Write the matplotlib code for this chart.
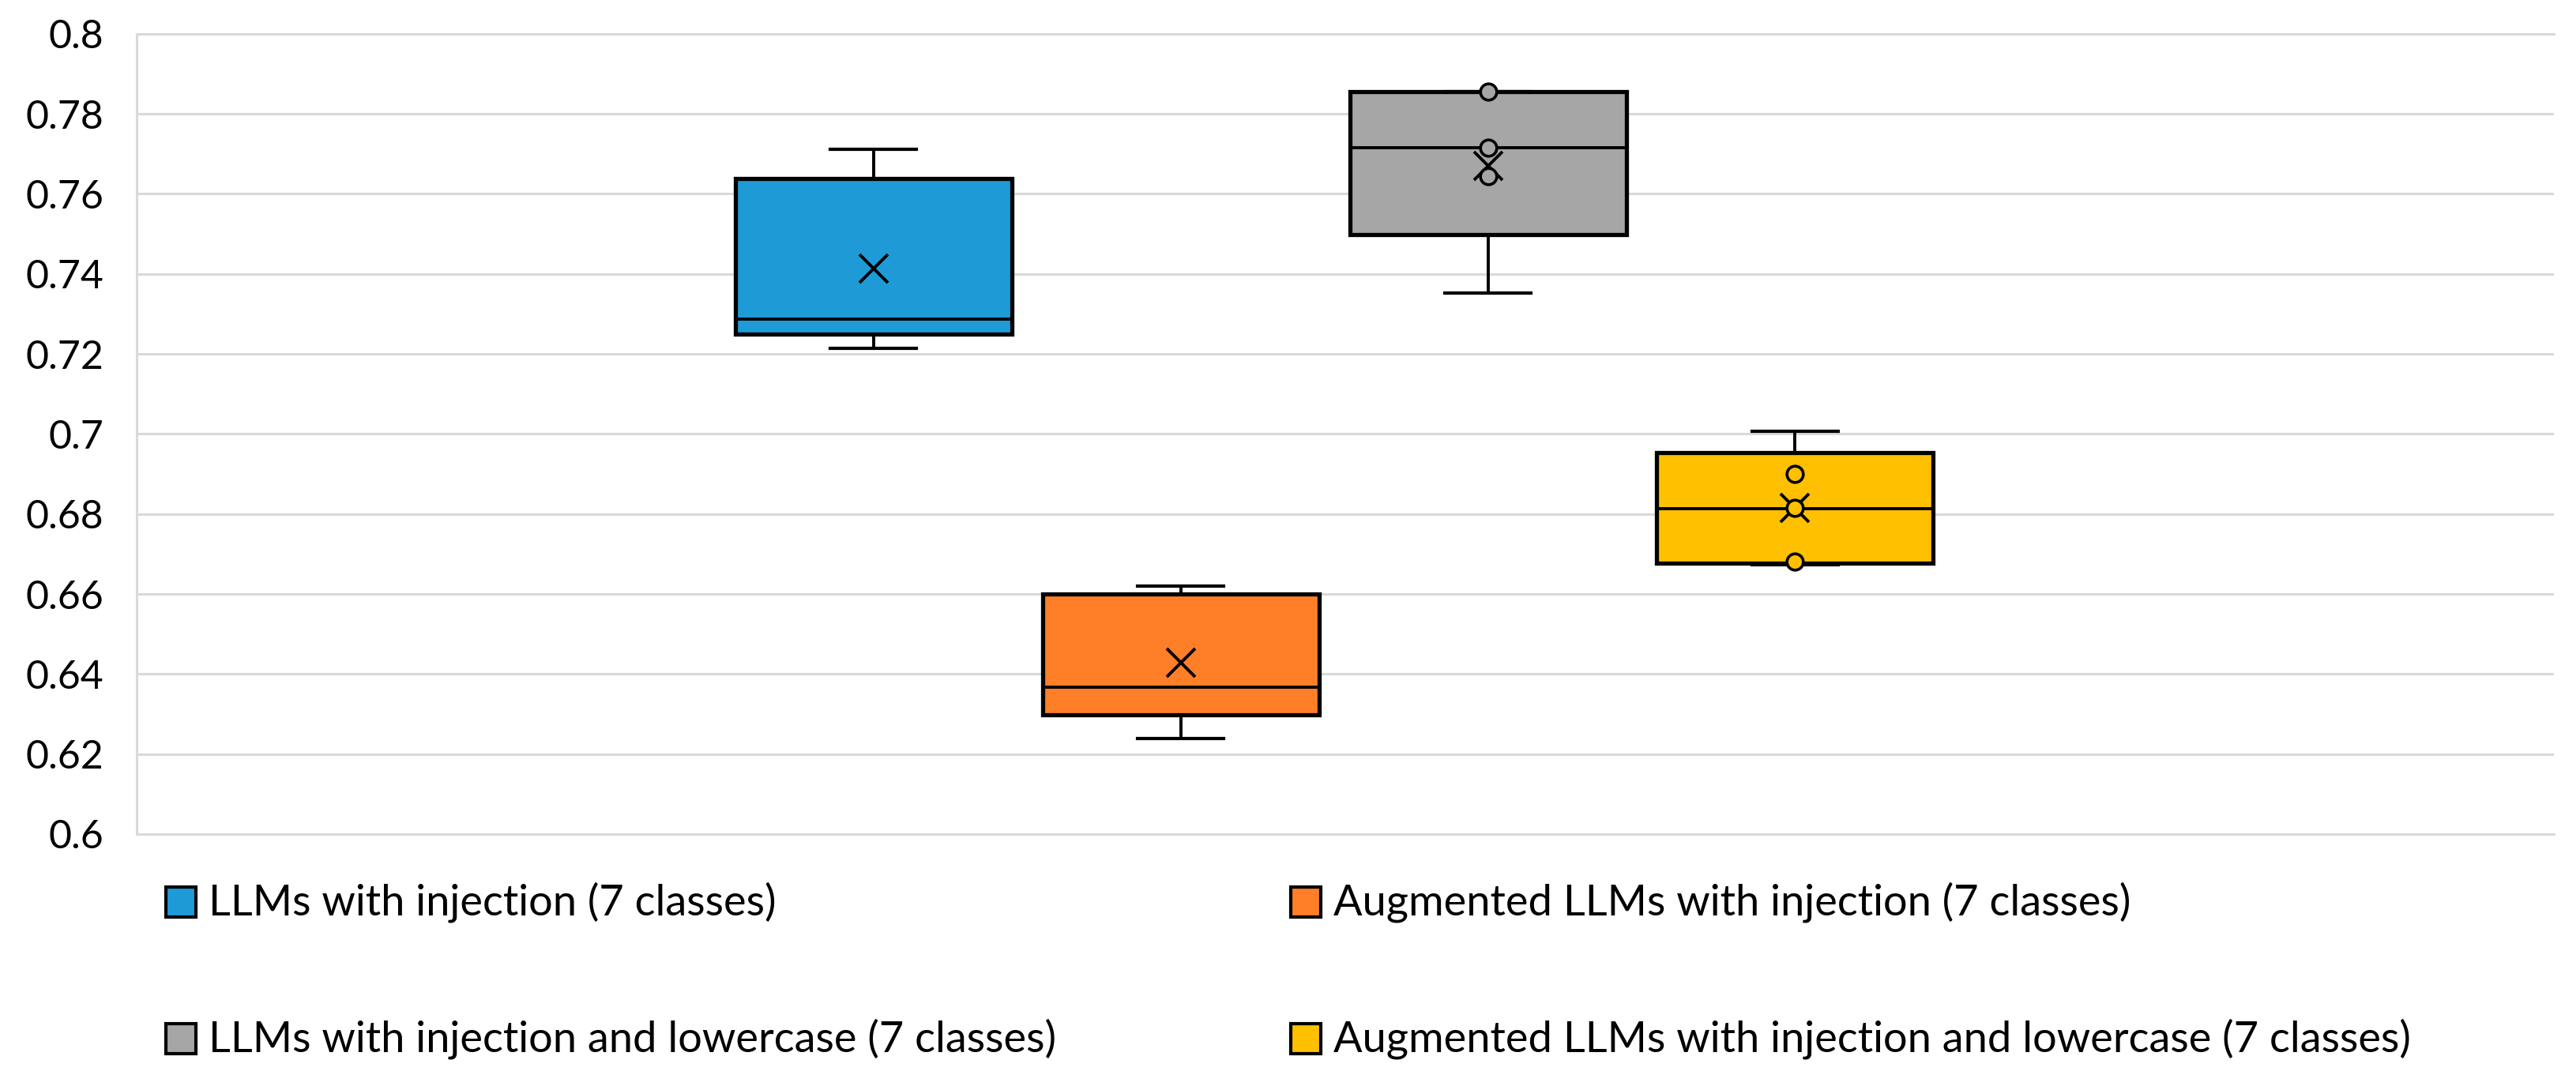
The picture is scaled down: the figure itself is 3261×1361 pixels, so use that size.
import matplotlib.pyplot as plt
from matplotlib.patches import Rectangle
from matplotlib.ticker import FuncFormatter

# ---------------- DATA ----------------
series = [
    "LLMs with injection (7 classes)",
    "Augmented LLMs with injection (7 classes)",
    "LLMs with injection and lowercase (7 classes)",
    "Augmented LLMs with injection and lowercase (7 classes)",
]
colors = ["#1E9BD7", "#FE7F27", "#A6A6A6", "#FFC000"]

whis_lo = [0.7213, 0.6238, 0.7352, 0.6673]
q1 = [0.7249, 0.6299, 0.7499, 0.6677]
median = [0.7287, 0.6367, 0.7716, 0.6814]
q3 = [0.7639, 0.6600, 0.7855, 0.6954]
whis_hi = [0.7711, 0.6619, 0.7856, 0.7006]
means = [0.7413, 0.6429, 0.7670, 0.6815]

# inner points shown for the lowercase series only
inner_points = [[], [], [0.7855, 0.7716, 0.7644], [0.6901, 0.6815, 0.6680]]

yticks = [0.6, 0.62, 0.64, 0.66, 0.68, 0.7, 0.72, 0.74, 0.76, 0.78, 0.8]

# ---------------- FIGURE ----------------
plt.rcParams["font.family"] = ["Lato", "DejaVu Sans"]
fig = plt.figure(figsize=(16.31, 6.805), dpi=200)
ax = fig.add_axes([0.0529, 0.2241, 0.9382, 0.7445])

positions = [1, 2, 3, 4]
stats = []
for i in range(4):
    stats.append({
        "whislo": whis_lo[i], "q1": q1[i], "med": median[i],
        "q3": q3[i], "whishi": whis_hi[i], "mean": means[i], "fliers": [],
    })

bp = ax.bxp(
    stats, positions=positions, widths=0.9, capwidths=0.28,
    patch_artist=True, showmeans=True, showfliers=False,
    boxprops={"edgecolor": "black", "linewidth": 1.9},
    medianprops={"color": "black", "linewidth": 1.4},
    whiskerprops={"color": "black", "linewidth": 1.4},
    capprops={"color": "black", "linewidth": 1.5},
    meanprops={"marker": "x", "markeredgecolor": "black", "markersize": 13,
               "markeredgewidth": 1.4},
    zorder=3,
)
for patch, c in zip(bp["boxes"], colors):
    patch.set_facecolor(c)

for pos, pts, c in zip(positions, inner_points, colors):
    if pts:
        ax.scatter([pos] * len(pts), pts, s=55, facecolor=c, edgecolor="black",
                   linewidth=1.3, zorder=5)

# ---------------- AXES ----------------
ax.set_xlim(-1.40, 6.47)
ax.set_ylim(0.6, 0.8)
ax.set_yticks(yticks)
ax.yaxis.set_major_formatter(FuncFormatter(lambda v, p: f"{v:g}"))
ax.tick_params(axis="y", length=0, pad=15, labelsize=18)
ax.set_xticks([])
ax.grid(axis="y", color="#D9D9D9", linewidth=1.1, zorder=0)
ax.set_axisbelow(True)
ax.spines["right"].set_visible(False)
for side in ["left", "top", "bottom"]:
    ax.spines[side].set_color("#D9D9D9")
    ax.spines[side].set_linewidth(1.1)

# ---------------- LEGEND ----------------
W, H = 3262, 1361
legend_xy = [(210, 1142), (1634, 1142), (210, 1315), (1634, 1315)]
box = 38
for (px, py), lab, c in zip(legend_xy, series, colors):
    fig.patches.append(Rectangle((px / W, 1 - (py + box / 2) / H), box / W, box / H,
                                 transform=fig.transFigure, facecolor=c,
                                 edgecolor="black", linewidth=1.5))
    fig.text((px + box + 16) / W, 1 - py / H, lab, fontsize=19.5,
             va="center", ha="left")

fig.savefig("out.png", dpi=200)
